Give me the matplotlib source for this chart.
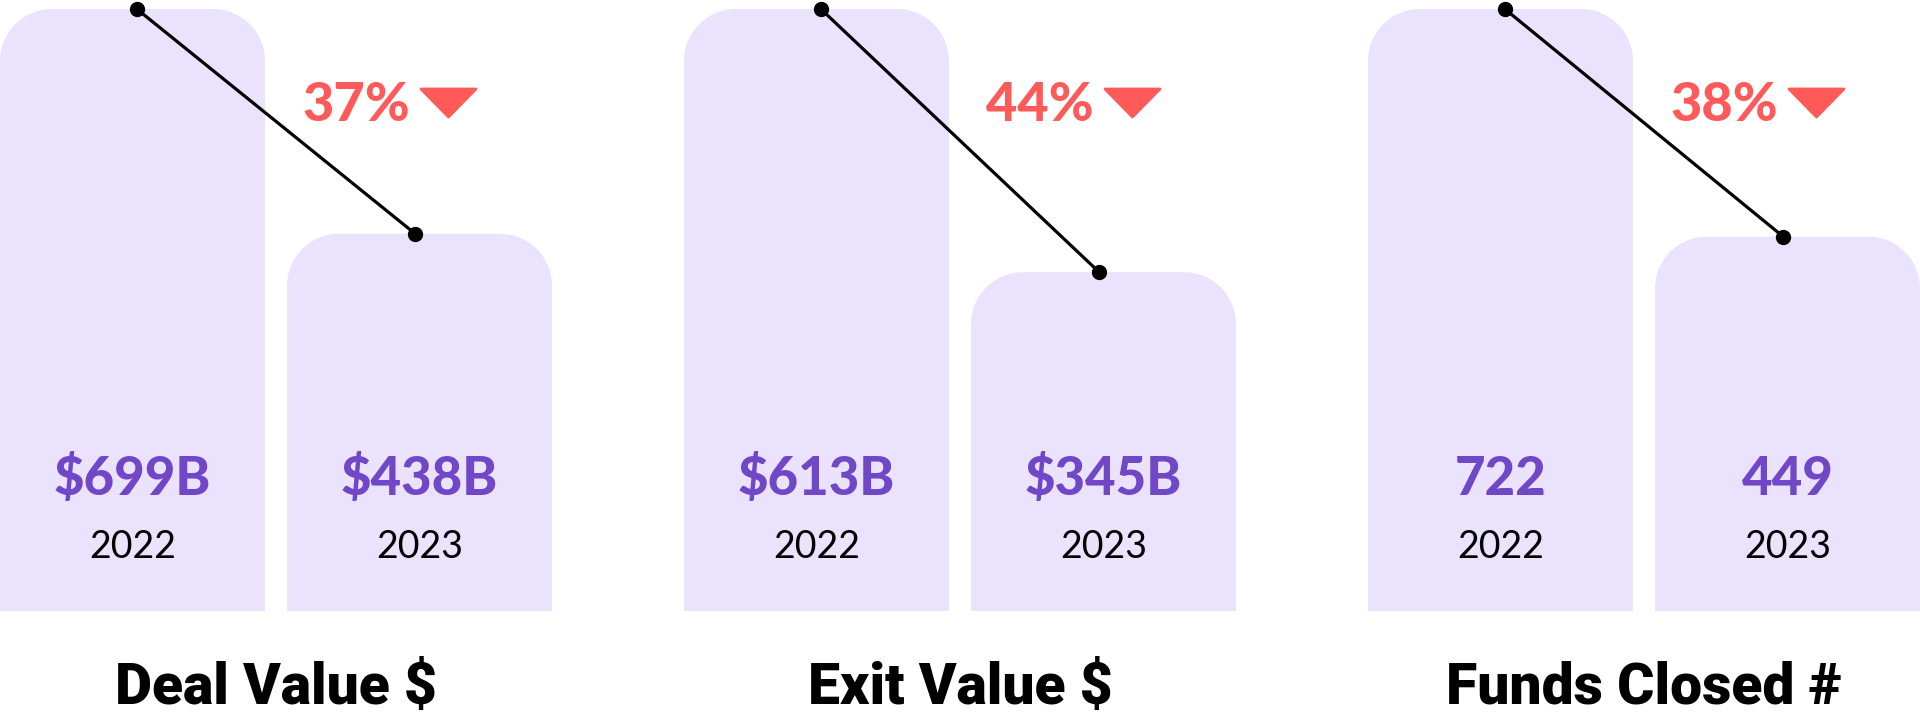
import matplotlib
matplotlib.use("Agg")
import matplotlib.pyplot as plt
from matplotlib.path import Path
from matplotlib.patches import PathPatch, Polygon
from matplotlib.transforms import blended_transform_factory

# data
metrics = ["Deal Value $", "Exit Value $", "Funds Closed #"]
years = ["2022", "2023"]
values_2022 = [699, 613, 722]
values_2023 = [438, 345, 449]
labels_2022 = ["$699B", "$613B", "722"]
labels_2023 = ["$438B", "$345B", "449"]
pct_drop = ["37%", "44%", "38%"]

BAR = "#EBE2FE"
PURPLE = "#7047C6"
RED = "#FF5A5A"

W, H = 1920, 714
fig = plt.figure(figsize=(W / 100, H / 100), dpi=100)
fig.patch.set_facecolor("white")

bar_w = 265 / 287          # bar width in data units (bar centres 1 unit apart)
radius_px = 52


def fy(px_from_top):
    return (H - px_from_top) / H


def rounded_bar(ax, x, h, w, rx, ry):
    x0, x1 = x - w / 2, x + w / 2
    k = 0.5523
    verts = [(x0, 0), (x0, h - ry),
             (x0, h - ry + k * ry), (x0 + rx - k * rx, h), (x0 + rx, h),
             (x1 - rx, h),
             (x1 - rx + k * rx, h), (x1, h - ry + k * ry), (x1, h - ry),
             (x1, 0), (x0, 0)]
    codes = [Path.MOVETO, Path.LINETO,
             Path.CURVE4, Path.CURVE4, Path.CURVE4,
             Path.LINETO,
             Path.CURVE4, Path.CURVE4, Path.CURVE4,
             Path.LINETO, Path.CLOSEPOLY]
    ax.add_patch(PathPatch(Path(verts, codes), facecolor=BAR, edgecolor="none", zorder=1))


for i in range(3):
    left_px = 684 * i
    ax = fig.add_axes([left_px / W, fy(611), 552 / W, 602 / H])
    ax.set_axis_off()
    ax.set_xlim(-bar_w / 2, 1 + bar_w / 2)
    top = values_2022[i]
    ax.set_ylim(0, top)

    px_x = 552 / (1 + bar_w)
    px_y = 602 / top
    vals = [values_2022[i], values_2023[i]]
    for j, v in enumerate(vals):
        rounded_bar(ax, j, v, bar_w, radius_px / px_x, radius_px / px_y)

    # connector between the two bar tops (slightly inset from bar centres)
    ax.plot([0.015, 0.985], vals, color="black", lw=2.3, marker="o", ms=10,
            clip_on=False, zorder=3)

    tr = blended_transform_factory(ax.transData, fig.transFigure)
    for j, lab in enumerate([labels_2022[i], labels_2023[i]]):
        ax.text(j, fy(495), lab, transform=tr, ha="center", va="baseline",
                fontsize=38, fontweight="black", color=PURPLE, family="Lato")
        ax.text(j, fy(558), years[j], transform=tr, ha="center", va="baseline",
                fontsize=27, color="black", family="Lato")

    tra = blended_transform_factory(ax.transAxes, fig.transFigure)
    ax.text(302 / 552, fy(121), pct_drop[i], transform=tra, ha="left", va="baseline",
            fontsize=39, fontweight="black", color=RED, family="Lato")
    tri = Polygon([(421 / 552, fy(89)), (476 / 552, fy(89)), (448.5 / 552, fy(117))],
                  closed=True, transform=tra, facecolor=RED, edgecolor=RED,
                  lw=2, joinstyle="round", clip_on=False)
    ax.add_patch(tri)

    fig.text((left_px + 276) / W, fy(704), metrics[i], ha="center", va="baseline",
             fontsize=41, fontweight="black", color="black", family="Roboto")

fig.savefig("out.png", dpi=100, facecolor="white")
